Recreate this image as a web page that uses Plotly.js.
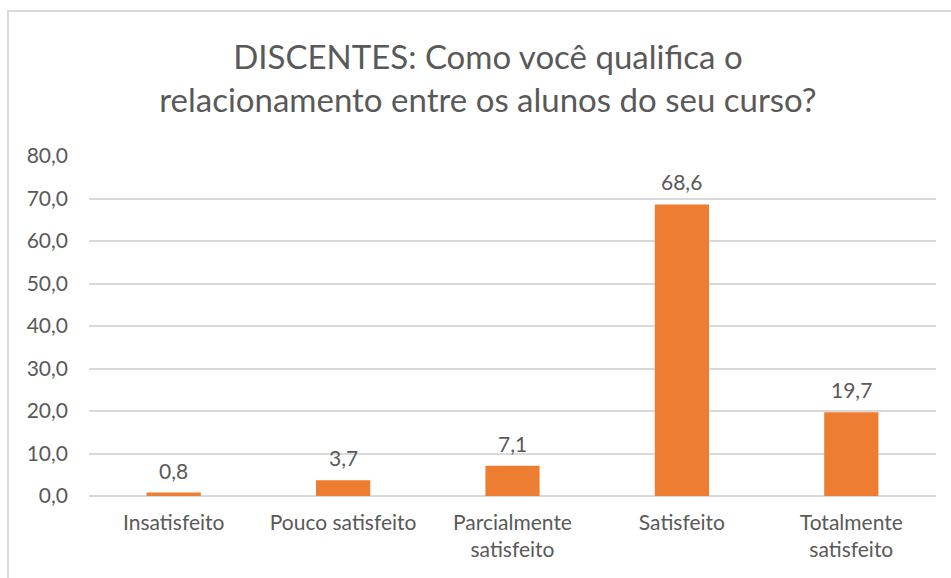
<!DOCTYPE html>
<html>
<head>
<meta charset="utf-8">
<script src="https://cdn.plot.ly/plotly-3.0.1.min.js"></script>
<style>
  body { margin: 0; background: #fff; }
  #frame { position: absolute; left: 7px; top: 10px; width: 960px; height: 580px; border: 2px solid #d9d9d9; box-sizing: border-box; }
  #myPlot { position: absolute; left: 0; top: 0; width: 951px; height: 578px; }
</style>
</head>
<body>
<div id="frame"></div>
<div id="myPlot"></div>
<script>
const categories = ["Insatisfeito", "Pouco satisfeito", "Parcialmente<br>satisfeito", "Satisfeito", "Totalmente<br>satisfeito"];
const values = [0.8, 3.7, 7.1, 68.6, 19.7];
const yTicks = [0, 10, 20, 30, 40, 50, 60, 70, 80];

const txtColor = "#595959";
const font = "Lato, 'Open Sans', sans-serif";

const data = [{
  x: categories,
  y: values,
  type: "bar",
  marker: {color: "#ed7d31"},
  hoverinfo: "skip"
}];

const labels = categories.map((c, i) => ({
  x: c, y: values[i], xref: "x", yref: "y",
  text: values[i].toFixed(1).replace(".", ","),
  showarrow: false, yanchor: "bottom", yshift: 8,
  font: {family: font, size: 21, color: txtColor}
}));

const layout = {
  width: 951, height: 578,
  paper_bgcolor: "rgba(0,0,0,0)", plot_bgcolor: "rgba(0,0,0,0)",
  margin: {l: 89, r: 15, t: 156, b: 82},
  separators: ",.",
  showlegend: false,
  bargap: 0.68,
  title: {
    text: "DISCENTES: Como você qualifica o<br>relacionamento entre os alunos do seu curso?",
    font: {family: font, size: 33, color: txtColor},
    x: 0.471, xanchor: "center", y: 0.88, yanchor: "middle", xref: "paper"
  },
  xaxis: {
    tickfont: {family: font, size: 21, color: txtColor},
    showline: false, ticks: "", ticklabelstandoff: 12
  },
  yaxis: {
    range: [0, 80], tickvals: yTicks, tickformat: ".1f",
    tickfont: {family: font, size: 21, color: txtColor},
    gridcolor: "#d9d9d9", gridwidth: 1.5, zeroline: true, zerolinecolor: "#d9d9d9", zerolinewidth: 1.5,
    showline: false, ticks: "", ticklabelstandoff: 20
  },
  annotations: labels
};

Plotly.newPlot("myPlot", data, layout, {displayModeBar: false});
</script>
</body>
</html>
